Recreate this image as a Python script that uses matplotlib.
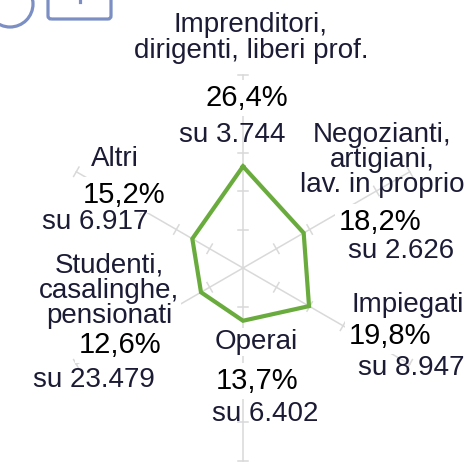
import numpy as np
import matplotlib
matplotlib.use("Agg")
import matplotlib.pyplot as plt
from matplotlib.patches import Circle, FancyBboxPatch

plt.rcParams['font.family'] = ['Liberation Sans', 'DejaVu Sans']

# --- Data ---
categories = ["Imprenditori,\ndirigenti, liberi prof.",
              "Negozianti,\nartigiani,\nlav. in proprio",
              "Impiegati",
              "Operai",
              "Studenti,\ncasalinghe,\npensionati",
              "Altri"]
values = [26.4, 18.2, 19.8, 13.7, 12.6, 15.2]
totals = ["3.744", "2.626", "8.947", "6.402", "23.479", "6.917"]
angles_deg = [90, 30, -30, -90, 210, 150]
ring_steps = [10, 20, 30, 40, 50]

# --- Layout (pixel positions of the labels) ---
W, H = 469, 465
cx, cy = 243, 268      # centre of the radar in pixels
scale = 3.85           # pixels per percentage point

def px(x, y):
    return ((x - cx) / scale, (cy - y) / scale)

# (category xy, percent xy, "su" xy)
label_pos = [
    ((251, 38), (247, 98), (232, 135)),
    ((382, 160), (380, 222), (401, 251)),
    ((408, 305), (390, 336), (411, 368)),
    ((256, 342), (257, 381), (265, 414)),
    ((109, 291), (120, 345), (94, 380)),
    ((115, 159), (124, 195), (95, 222)),
]
# which category labels hide the axis lines behind them
cat_bg = [True, False, True, True, True, True]

navy = '#1b1b35'
grid_col = '#d9d9d9'
green = '#6aab3e'
icon_col = '#7b8fc4'

fig = plt.figure(figsize=(W / 100, H / 100), dpi=100)
ax = fig.add_axes([0, 0, 1, 1])
ax.set_xlim(px(0, 0)[0], px(W, 0)[0])
ax.set_ylim(px(0, H)[1], px(0, 0)[1])
ax.axis('off')

theta = np.deg2rad(angles_deg)
rmax = ring_steps[-1]

# axes and ticks
for t in theta:
    ux, uy = np.cos(t), np.sin(t)
    ax.plot([0, rmax * ux], [0, rmax * uy], color=grid_col, lw=1.1, zorder=1)
    for r in ring_steps:
        px_, py_ = -uy * 1.4, ux * 1.4
        ax.plot([r * ux - px_, r * ux + px_], [r * uy - py_, r * uy + py_],
                color=grid_col, lw=1.1, zorder=1)

# data polygon
xs = np.array(values) * np.cos(theta)
ys = np.array(values) * np.sin(theta)
ax.plot(np.append(xs, xs[0]), np.append(ys, ys[0]), color=green, lw=3,
        solid_joinstyle='miter', zorder=3)

# labels
for cat, v, tot, (cp, pp, sp), bg in zip(categories, values, totals, label_pos, cat_bg):
    box = dict(facecolor='white', edgecolor='none', pad=1) if bg else None
    ax.text(*px(*cp), cat, ha='center', va='center', fontsize=20, color=navy,
            linespacing=0.95, zorder=4, bbox=box)
    ax.text(*px(*pp), f"{v:.1f}".replace('.', ',') + '%', ha='center', va='center',
            fontsize=21, color='black', zorder=4,
            bbox=dict(facecolor='white', edgecolor='none', pad=3))
    ax.text(*px(*sp), "su " + tot, ha='center', va='center', fontsize=20,
            color=navy, zorder=4)

# cropped icons in the top-left corner
ax.add_patch(Circle(px(10, 4), 23 / scale, fill=False, edgecolor=icon_col,
                    lw=2.3, zorder=5))
x0, y0 = px(48, 19)
x1, y1 = px(111, -20)
ax.add_patch(FancyBboxPatch((x0, y0), x1 - x0, y1 - y0,
                            boxstyle="round,pad=0,rounding_size=0.8",
                            fill=False, edgecolor=icon_col, lw=2.3, zorder=5))
ax.plot(*zip(px(80, -2), px(80, 2)), color=icon_col, lw=2.3, zorder=5)

fig.savefig("out.png", dpi=100)
